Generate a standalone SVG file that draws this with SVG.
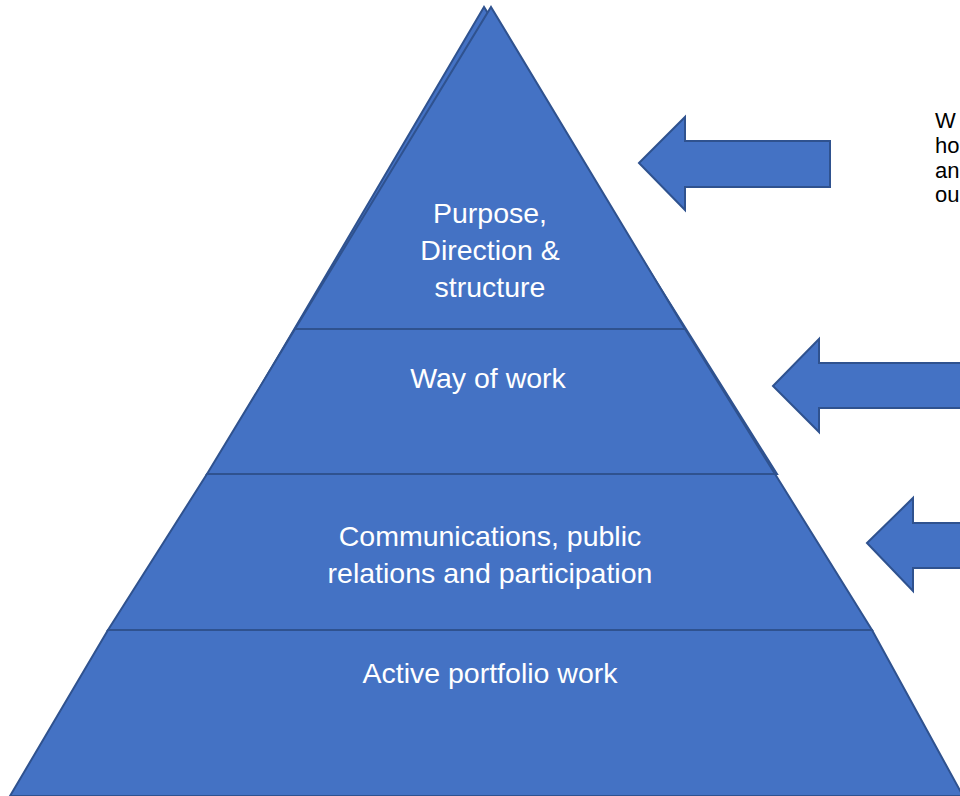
<svg xmlns="http://www.w3.org/2000/svg" width="960" height="796" viewBox="0 0 960 796">
<style>
.shape{fill:#4472C4;stroke:#2F528F;stroke-width:2;stroke-linejoin:miter}
.lbl{font-family:"Liberation Sans",Arial,sans-serif;font-size:28.5px;fill:#FFFFFF;text-anchor:middle}
.side{font-family:"Liberation Sans",Arial,sans-serif;font-size:22px;fill:#000000}
</style>
<rect width="960" height="796" fill="#FFFFFF"/>
<g id="pyramid-back">
<polygon class="shape" points="484,7 209,474 777,474"/>
</g>
<g id="layer-bottom">
<polygon class="shape" points="108,630 872,630 963,796 10,796"/>
<text class="lbl" x="490" y="683">Active portfolio work</text>
</g>
<g id="layer-communications">
<polygon class="shape" points="207,474 775,474 872,630 108,630"/>
<text class="lbl" x="490" y="546">Communications, public</text>
<text class="lbl" x="490" y="583">relations and participation</text>
</g>
<g id="layer-way">
<polygon class="shape" points="295,329 685,329 775,474 207,474"/>
<text class="lbl" x="488" y="388">Way of work</text>
</g>
<g id="layer-top">
<polygon class="shape" points="491,7 685,329 295,329"/>
<text class="lbl" x="490" y="223">Purpose,</text>
<text class="lbl" x="490" y="260">Direction &amp;</text>
<text class="lbl" x="490" y="297">structure</text>
</g>
<g id="connectors">
<polygon class="shape" points="639,163 685,117 685,141 830,141 830,187 685,187 685,210"/>
<polygon class="shape" points="773,386 819,339 819,363 975,363 975,408 819,408 819,432"/>
<polygon class="shape" points="867,543 913,498 913,523 975,523 975,568 913,568 913,591"/>
</g>
<g id="side-text">
<text class="side" x="935" y="128">W</text>
<text class="side" x="935" y="153">ho</text>
<text class="side" x="935" y="178">an</text>
<text class="side" x="935" y="202">ou</text>
</g>
</svg>
